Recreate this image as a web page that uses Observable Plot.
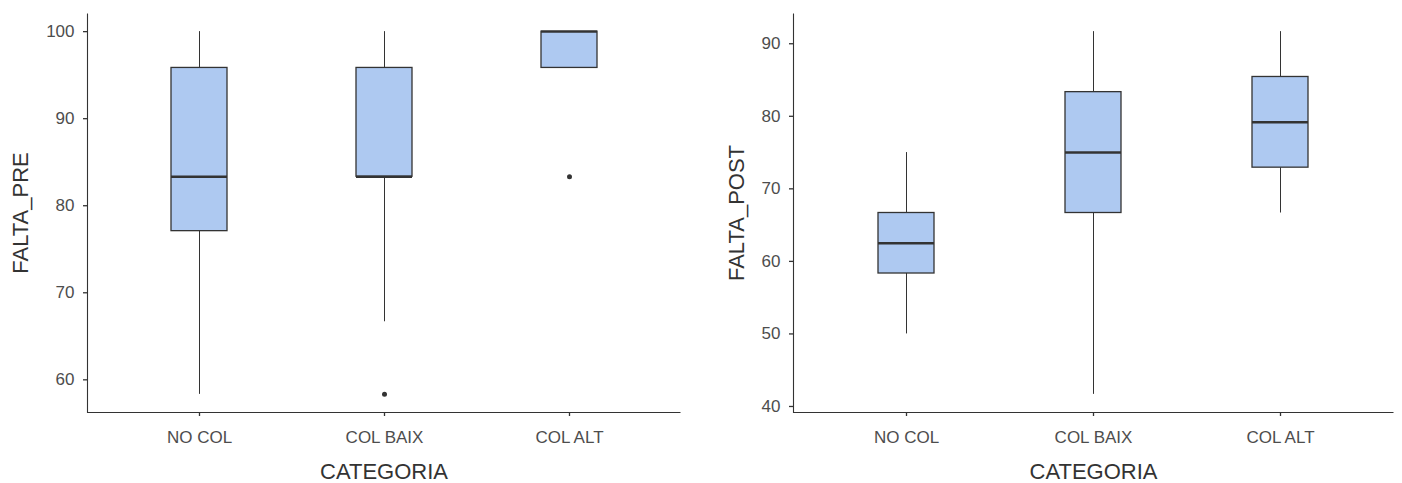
<!DOCTYPE html>
<html>
<head>
<meta charset="utf-8">
<script src="https://cdn.jsdelivr.net/npm/d3@7"></script>
<script src="https://cdn.jsdelivr.net/npm/@observablehq/plot@0.6"></script>
<style>
  html, body { margin: 0; padding: 0; background: #fff; }
  #wrap { position: relative; width: 1402px; height: 483px; overflow: hidden; }
  #left { position: absolute; left: 0; top: 0; }
  #right { position: absolute; left: 700px; top: 0; }
</style>
</head>
<body>
<div id="wrap"><div id="left"></div><div id="right"></div></div>
<script>
// ---- data ----
const categories = ["NO COL", "COL BAIX", "COL ALT"];

// FALTA_PRE
const preMin    = [58.33, 66.67, 95.83];
const preQ1     = [77.08, 83.33, 95.83];
const preMedian = [83.33, 83.33, 100];
const preQ3     = [95.83, 95.83, 100];
const preMax    = [100, 100, 100];
const preOutCat = ["COL BAIX", "COL ALT"];
const preOutVal = [58.33, 83.33];
const preTicks  = [60, 70, 80, 90, 100];

// FALTA_POST
const postMin    = [50, 41.67, 66.67];
const postQ1     = [58.33, 66.67, 72.92];
const postMedian = [62.5, 75, 79.17];
const postQ3     = [66.67, 83.33, 85.42];
const postMax    = [75, 91.67, 91.67];
const postOutCat = [];
const postOutVal = [];
const postTicks  = [40, 50, 60, 70, 80, 90];

const FILL = "#aec9f1";
const DARK = "#333333";

function table(mins, q1s, meds, q3s, maxs) {
  return categories.map((c, i) => ({cat: c, min: mins[i], q1: q1s[i], med: meds[i], q3: q3s[i], max: maxs[i]}));
}
function outliers(cats, vals) {
  return cats.map((c, i) => ({cat: c, v: vals[i]}));
}
function expand(lo, hi) { const d = (hi - lo) * 0.05; return [lo - d, hi + d]; }

function boxChart({width, height, marginLeft, marginRight, marginTop, marginBottom, stats, outs, ticks, ylabel, yLabelDx}) {
  const lo = d3.min([...stats.map(d => d.min), ...outs.map(d => d.v)]);
  const hi = d3.max([...stats.map(d => d.max), ...outs.map(d => d.v)]);
  const w = width - marginLeft - marginRight;
  const h = height - marginTop - marginBottom;
  return Plot.plot({
    width, height, marginLeft, marginRight, marginTop, marginBottom,
    style: {fontFamily: "'Liberation Sans', Arial, sans-serif", fontSize: "17px", color: "#4d4d4d", background: "#fff"},
    x: {type: "band", domain: categories, paddingInner: 0.7, paddingOuter: 0.45, align: 0.5, axis: null},
    y: {domain: expand(lo, hi), axis: null},
    marks: [
      Plot.frame({stroke: DARK, strokeWidth: 1.1, strokeDasharray: `0 ${w + h} ${w + h + 2}`}),
      Plot.axisY({ticks, tickSize: 4, tickPadding: 9, stroke: DARK, strokeWidth: 1.3, label: null, fill: "#4d4d4d"}),
      Plot.axisX({tickSize: 4, tickPadding: 14, stroke: DARK, strokeWidth: 1.3, label: null, fill: "#4d4d4d"}),
      Plot.ruleX(stats, {x: "cat", y1: "min", y2: "q1", stroke: DARK, strokeWidth: 1}),
      Plot.ruleX(stats, {x: "cat", y1: "q3", y2: "max", stroke: DARK, strokeWidth: 1}),
      Plot.barY(stats, {x: "cat", y1: "q1", y2: "q3", fill: FILL, stroke: DARK, strokeWidth: 1.3}),
      Plot.tickY(stats, {x: "cat", y: "med", stroke: DARK, strokeWidth: 2.4}),
      Plot.dot(outs, {x: "cat", y: "v", r: 2.5, fill: DARK, stroke: "none"}),
      Plot.text(["CATEGORIA"], {frameAnchor: "bottom", lineAnchor: "middle", textAnchor: "middle", dy: 59, fontSize: 22, fill: "#333"}),
      Plot.text([ylabel], {frameAnchor: "left", lineAnchor: "middle", textAnchor: "middle", dx: yLabelDx, rotate: -90, fontSize: 22, fill: "#333"})
    ]
  });
}

document.getElementById("left").appendChild(boxChart({
  width: 700, height: 483, marginLeft: 87, marginRight: 20, marginTop: 13, marginBottom: 71,
  stats: table(preMin, preQ1, preMedian, preQ3, preMax),
  outs: outliers(preOutCat, preOutVal),
  ticks: preTicks, ylabel: "FALTA_PRE", yLabelDx: -66.5
}));

document.getElementById("right").appendChild(boxChart({
  width: 702, height: 483, marginLeft: 93, marginRight: 9, marginTop: 13, marginBottom: 71,
  stats: table(postMin, postQ1, postMedian, postQ3, postMax),
  outs: outliers(postOutCat, postOutVal),
  ticks: postTicks, ylabel: "FALTA_POST", yLabelDx: -57
}));
</script>
</body>
</html>
